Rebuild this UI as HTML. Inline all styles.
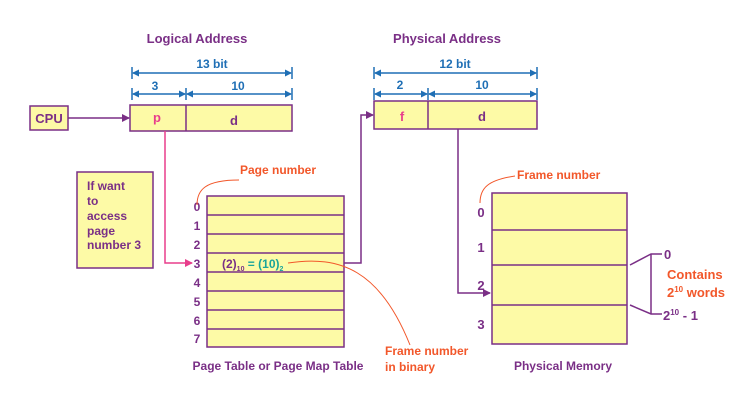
<!DOCTYPE html>
<html><head><meta charset="utf-8"><style>
html,body{margin:0;padding:0;background:#fff;}
svg{display:block;font-family:"Liberation Sans",Arial,sans-serif;font-weight:bold;}
.pt{fill:#7a2f86;}
.bl{fill:#1f6fb5;}
.or{fill:#f2572a;}
</style></head><body>
<svg width="750" height="403" viewBox="0 0 750 403" xmlns="http://www.w3.org/2000/svg">
<defs>
<marker id="ap" markerWidth="8" markerHeight="8" refX="7" refY="4" orient="auto" markerUnits="userSpaceOnUse"><path d="M0,0 L8,4 L0,8z" fill="#7a2f86"/></marker>
<marker id="apk" markerWidth="8" markerHeight="8" refX="7" refY="4" orient="auto" markerUnits="userSpaceOnUse"><path d="M0,0 L8,4 L0,8z" fill="#e83e8c"/></marker>
<marker id="ab" markerWidth="7" markerHeight="7" refX="6" refY="3.5" orient="auto-start-reverse" markerUnits="userSpaceOnUse"><path d="M0,0 L7,3.5 L0,7z" fill="#1f6fb5"/></marker>
</defs>

<!-- Logical address -->
<text x="197" y="43" text-anchor="middle" class="pt" font-size="13">Logical Address</text>
<g stroke="#1f6fb5" stroke-width="1.5">
<line x1="132" y1="67" x2="132" y2="79"/><line x1="292" y1="67" x2="292" y2="79"/>
<line x1="133" y1="73" x2="291" y2="73" marker-start="url(#ab)" marker-end="url(#ab)"/>
<line x1="132" y1="88" x2="132" y2="100"/><line x1="186" y1="88" x2="186" y2="100"/><line x1="292" y1="88" x2="292" y2="100"/>
<line x1="133" y1="94" x2="185" y2="94" marker-start="url(#ab)" marker-end="url(#ab)"/>
<line x1="187" y1="94" x2="291" y2="94" marker-start="url(#ab)" marker-end="url(#ab)"/>
</g>
<text x="212" y="68" text-anchor="middle" class="bl" font-size="12">13 bit</text>
<text x="155" y="90" text-anchor="middle" class="bl" font-size="12">3</text>
<text x="238" y="90" text-anchor="middle" class="bl" font-size="12">10</text>

<rect x="30" y="106" width="38" height="24" fill="#fdfaa6" stroke="#7a2f86" stroke-width="1.5"/>
<text x="49" y="123" text-anchor="middle" class="pt" font-size="13">CPU</text>
<line x1="68" y1="118" x2="129" y2="118" stroke="#7a2f86" stroke-width="1.5" marker-end="url(#ap)"/>

<g>
<rect x="130" y="105" width="162" height="26" fill="#fdfaa6" stroke="#7a2f86" stroke-width="1.5"/>
<line x1="186" y1="105" x2="186" y2="131" stroke="#7a2f86" stroke-width="1.5"/>
<text x="157" y="122" text-anchor="middle" fill="#e83e8c" font-size="13">p</text>
<text x="234" y="125" text-anchor="middle" class="pt" font-size="13">d</text>
</g>

<!-- Physical address -->
<text x="447" y="43" text-anchor="middle" class="pt" font-size="13">Physical Address</text>
<g stroke="#1f6fb5" stroke-width="1.5">
<line x1="374" y1="67" x2="374" y2="79"/><line x1="537" y1="67" x2="537" y2="79"/>
<line x1="375" y1="73" x2="536" y2="73" marker-start="url(#ab)" marker-end="url(#ab)"/>
<line x1="374" y1="88" x2="374" y2="100"/><line x1="428" y1="88" x2="428" y2="100"/><line x1="537" y1="88" x2="537" y2="100"/>
<line x1="375" y1="94" x2="427" y2="94" marker-start="url(#ab)" marker-end="url(#ab)"/>
<line x1="429" y1="94" x2="536" y2="94" marker-start="url(#ab)" marker-end="url(#ab)"/>
</g>
<text x="455" y="68" text-anchor="middle" class="bl" font-size="12">12 bit</text>
<text x="400" y="89" text-anchor="middle" class="bl" font-size="12">2</text>
<text x="482" y="89" text-anchor="middle" class="bl" font-size="12">10</text>
<g>
<rect x="374" y="101" width="163" height="28" fill="#fdfaa6" stroke="#7a2f86" stroke-width="1.5"/>
<line x1="428" y1="101" x2="428" y2="129" stroke="#7a2f86" stroke-width="1.5"/>
<text x="402" y="121" text-anchor="middle" fill="#e83e8c" font-size="13">f</text>
<text x="482" y="121" text-anchor="middle" class="pt" font-size="13">d</text>
</g>

<!-- note -->
<rect x="77" y="172" width="76" height="96" fill="#fdfaa6" stroke="#7a2f86" stroke-width="1.5"/>
<text class="pt" font-size="12"><tspan x="87" y="190">If want</tspan><tspan x="87" y="205">to</tspan><tspan x="87" y="220">access</tspan><tspan x="87" y="235">page</tspan><tspan x="87" y="249">number 3</tspan></text>

<!-- p line -->
<polyline points="165,131 165,263 192,263" fill="none" stroke="#e83e8c" stroke-width="1.5" marker-end="url(#apk)"/>

<!-- page table -->
<g>
<rect x="207" y="196" width="137" height="151" fill="#fdfaa6" stroke="#7a2f86" stroke-width="1.5"/>
<g stroke="#7a2f86" stroke-width="1.5">
<line x1="207" y1="215" x2="344" y2="215"/><line x1="207" y1="234" x2="344" y2="234"/><line x1="207" y1="253" x2="344" y2="253"/><line x1="207" y1="272" x2="344" y2="272"/><line x1="207" y1="291" x2="344" y2="291"/><line x1="207" y1="310" x2="344" y2="310"/><line x1="207" y1="329" x2="344" y2="329"/>
</g>
</g>
<g class="pt" font-size="12" text-anchor="middle">
<text x="197" y="211">0</text><text x="197" y="230">1</text><text x="197" y="249">2</text><text x="197" y="268">3</text><text x="197" y="287">4</text><text x="197" y="306">5</text><text x="197" y="325">6</text><text x="197" y="343">7</text>
</g>
<text x="222" y="268" class="pt" font-size="12">(2)<tspan font-size="7" dy="3">10</tspan><tspan dy="-3" fill="#1aa59a"> = (10)</tspan><tspan font-size="7" dy="3" fill="#1aa59a">2</tspan></text>
<text x="278" y="370" text-anchor="middle" class="pt" font-size="12">Page Table or Page Map Table</text>

<polyline points="344,263 361,263 361,115 373,115" fill="none" stroke="#7a2f86" stroke-width="1.5" marker-end="url(#ap)"/>

<!-- annotations -->
<path d="M197,205 C197,190 205,180 239,180" fill="none" stroke="#f2572a" stroke-width="1"/>
<text x="240" y="174" class="or" font-size="12">Page number</text>
<path d="M288,263 C340,255 380,270 410,345" fill="none" stroke="#f2572a" stroke-width="1"/>
<text class="or" font-size="12"><tspan x="385" y="355">Frame number</tspan><tspan x="385" y="371">in binary</tspan></text>
<path d="M480,203 C480,188 488,180 515,176" fill="none" stroke="#f2572a" stroke-width="1"/>
<text x="517" y="179" class="or" font-size="12">Frame number</text>

<!-- physical memory -->
<polyline points="458,129 458,293 490,293" fill="none" stroke="#7a2f86" stroke-width="1.5" marker-end="url(#ap)"/>
<g>
<rect x="492" y="193" width="135" height="151" fill="#fdfaa6" stroke="#7a2f86" stroke-width="1.5"/>
<g stroke="#7a2f86" stroke-width="1.5">
<line x1="492" y1="230" x2="627" y2="230"/><line x1="492" y1="265" x2="627" y2="265"/><line x1="492" y1="305" x2="627" y2="305"/>
</g>
</g>
<g class="pt" font-size="13" text-anchor="middle">
<text x="481" y="217">0</text><text x="481" y="252">1</text><text x="481" y="290">2</text><text x="481" y="329">3</text>
</g>
<text x="563" y="370" text-anchor="middle" class="pt" font-size="12">Physical Memory</text>

<g fill="none" stroke="#7a2f86" stroke-width="1.5">
<polyline points="630,265 651,254 662,254"/>
<line x1="651" y1="254" x2="651" y2="314"/>
<polyline points="630,305 651,314 662,314"/>
</g>
<text x="664" y="259" class="pt" font-size="13">0</text>
<text x="663" y="320" class="pt" font-size="13">2<tspan font-size="8" dy="-5">10</tspan><tspan dy="5"> - 1</tspan></text>
<text class="or" font-size="13"><tspan x="667" y="279">Contains</tspan></text>
<text x="667" y="297" class="or" font-size="13">2<tspan font-size="8" dy="-5">10</tspan><tspan dy="5"> words</tspan></text>
</svg>
</body></html>
